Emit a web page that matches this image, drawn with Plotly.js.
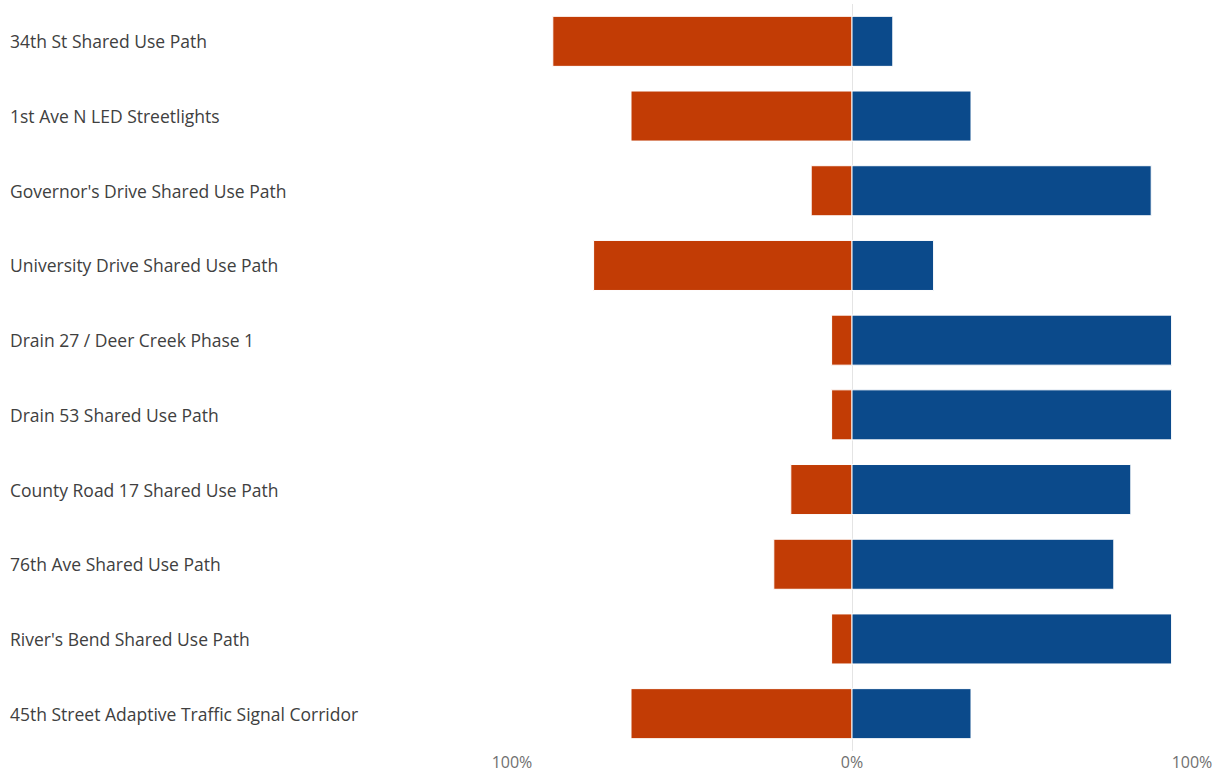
<!DOCTYPE html>
<html>
<head>
<meta charset="utf-8">
<script src="https://cdn.plot.ly/plotly-3.0.1.min.js"></script>
<style>html,body{margin:0;padding:0;background:#fff;}#chart{width:1225px;height:777px;}</style>
</head>
<body>
<div id="chart"></div>
<script>
const projects = [
  "34th St Shared Use Path",
  "1st Ave N LED Streetlights",
  "Governor's Drive Shared Use Path",
  "University Drive Shared Use Path",
  "Drain 27 / Deer Creek Phase 1",
  "Drain 53 Shared Use Path",
  "County Road 17 Shared Use Path",
  "76th Ave Shared Use Path",
  "River's Bend Shared Use Path",
  "45th Street Adaptive Traffic Signal Corridor"
];
const negativeShare = [88, 65, 12, 76, 6, 6, 18, 23, 6, 65];
const positiveShare = [12, 35, 88, 24, 94, 94, 82, 77, 94, 35];
const tickVals = [-100, 0, 100];
const tickLabels = ["100%", "0%", "100%"];

const traces = [
  {
    type: 'bar', orientation: 'h', y: projects,
    x: negativeShare.map(v => -v),
    marker: {color: '#C23C05', line: {color: '#ffffff', width: 1}},
    width: 0.67, hoverinfo: 'none', showlegend: false
  },
  {
    type: 'bar', orientation: 'h', y: projects,
    x: positiveShare,
    marker: {color: '#0B4A8B', line: {color: '#ffffff', width: 1}},
    width: 0.67, hoverinfo: 'none', showlegend: false
  }
];

const annotations = projects.map(p => ({
  xref: 'paper', yref: 'y', x: 8/1225, y: p, xanchor: 'left', yanchor: 'middle',
  text: p, showarrow: false,
  font: {family: 'Open Sans, Noto Sans, sans-serif', size: 17.5, color: '#404040'}
}));

const layout = {
  width: 1225, height: 777,
  margin: {l: 0, r: 0, t: 4, b: 26},
  paper_bgcolor: '#fff', plot_bgcolor: '#fff',
  barmode: 'relative', bargap: 0.33,
  xaxis: {
    domain: [512/1225, 1192/1225],
    range: [-100, 100],
    tickvals: tickVals, ticktext: tickLabels,
    showgrid: true, gridcolor: '#ebebeb', gridwidth: 1,
    zeroline: true, zerolinecolor: '#e4e4e4', zerolinewidth: 1,
    showline: false, ticks: '',
    tickfont: {family: 'Open Sans, Noto Sans, sans-serif', size: 16, color: '#707070'},
    fixedrange: true
  },
  yaxis: {
    autorange: 'reversed',
    showticklabels: false, showgrid: false, zeroline: false, ticks: '',
    fixedrange: true
  },
  annotations: annotations
};

Plotly.newPlot('chart', traces, layout, {displayModeBar: false, staticPlot: true});
</script>
</body>
</html>
